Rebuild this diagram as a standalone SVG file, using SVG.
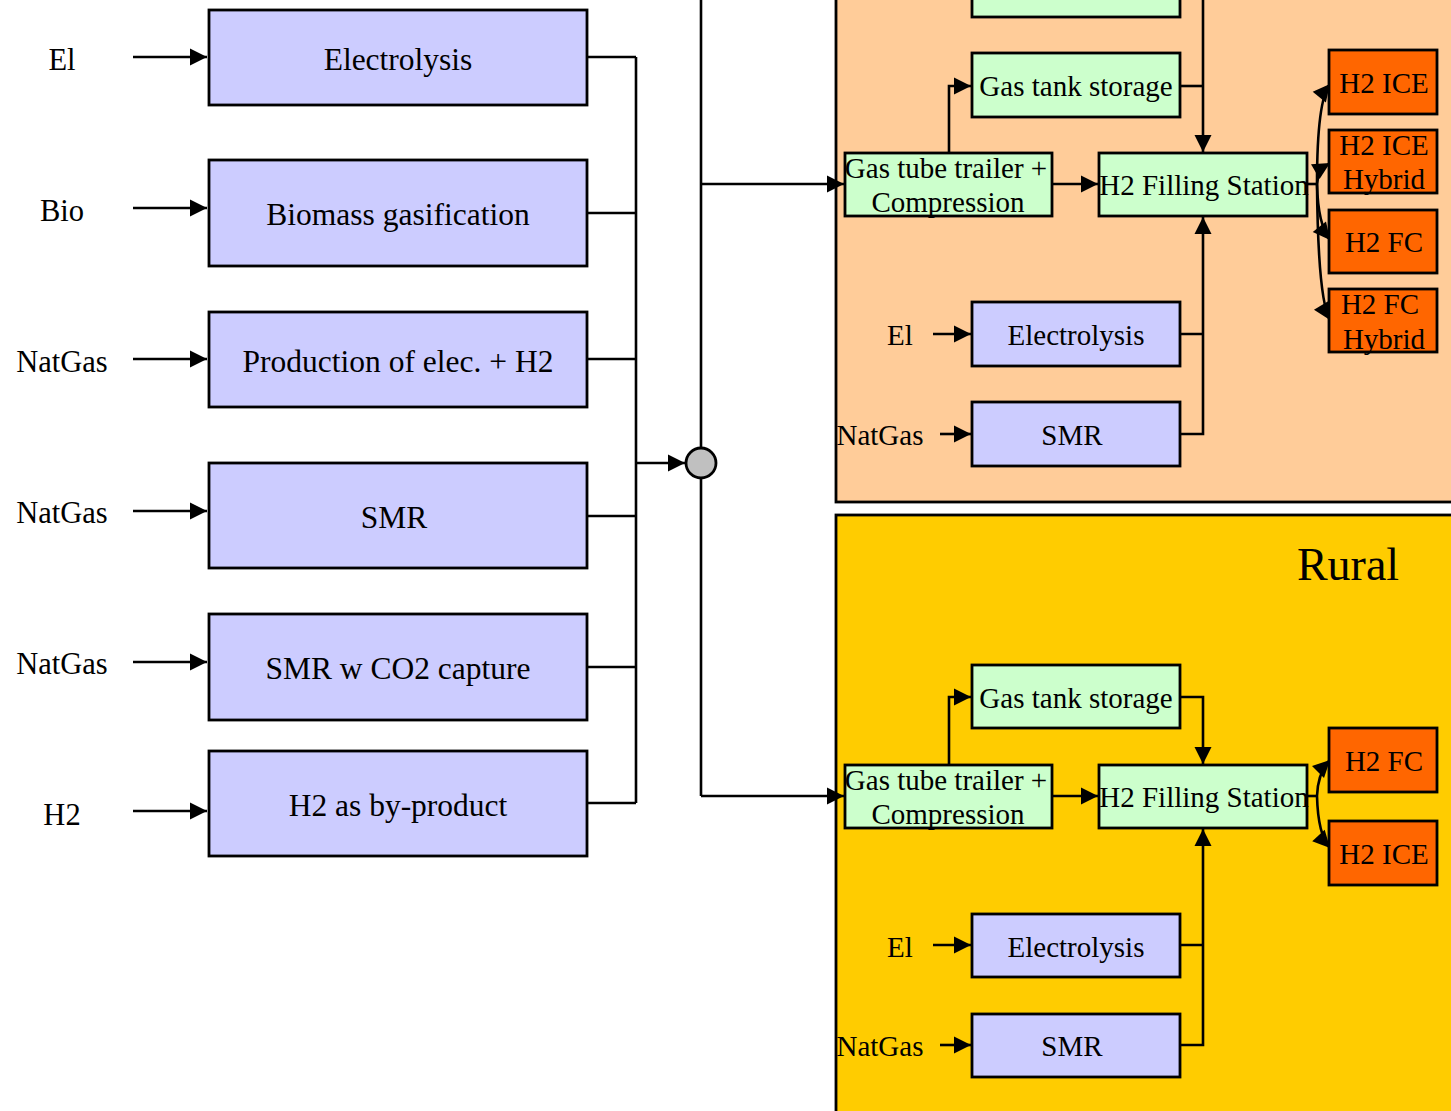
<svg xmlns="http://www.w3.org/2000/svg" width="1451" height="1111" viewBox="0 0 1451 1111">
<style>
text{font-family:"Liberation Serif","Times New Roman",serif;fill:#000;text-anchor:middle}
.big{font-size:31.5px}
.lbl{font-size:30.5px}
.sm{font-size:29px}
.blue{fill:#CCCCFF;stroke:#000;stroke-width:2.8}
.green{fill:#CCFFCC;stroke:#000;stroke-width:2.8}
.veh{fill:#FF6600;stroke:#000;stroke-width:2.8}
.ln{fill:none;stroke:#000;stroke-width:2.6}
</style>
<defs>
<marker id="ah" markerUnits="userSpaceOnUse" markerWidth="20" markerHeight="20" refX="17" refY="8.5" orient="auto" overflow="visible"><path d="M0,0 L17,8.5 L0,17 z" fill="#000"/></marker>
</defs>
<rect width="1451" height="1111" fill="#fff"/>
<g id="panel-urban"><rect x="836" y="-10" width="630" height="512" fill="#FFCC99" stroke="#000" stroke-width="2.8"/></g>
<g id="panel-rural"><rect x="836" y="515" width="630" height="610" fill="#FFCC00" stroke="#000" stroke-width="2.8"/><text x="1348" y="580" style="font-size:46px">Rural</text></g>

<g id="connectors">
<path class="ln" d="M133,57 H207" marker-end="url(#ah)"/>
<path class="ln" d="M133,208 H207" marker-end="url(#ah)"/>
<path class="ln" d="M133,359 H207" marker-end="url(#ah)"/>
<path class="ln" d="M133,511 H207" marker-end="url(#ah)"/>
<path class="ln" d="M133,662 H207" marker-end="url(#ah)"/>
<path class="ln" d="M133,811 H207" marker-end="url(#ah)"/>
<path class="ln" d="M587,57 H636 M587,213 H636 M587,359 H636 M587,516 H636 M587,667 H636 M587,803 H636 M636,57 V803"/>
<path class="ln" d="M636,463 H685" marker-end="url(#ah)"/>
<path class="ln" d="M701,0 V448 M701,478 V796"/>
<path class="ln" d="M701,184 H844" marker-end="url(#ah)"/>
<path class="ln" d="M701,796 H844" marker-end="url(#ah)"/>
<!-- urban -->
<path class="ln" d="M949,153 V86 H971" marker-end="url(#ah)"/>
<path class="ln" d="M1180,86 H1203"/>
<path class="ln" d="M1203,0 V152" marker-end="url(#ah)"/>
<path class="ln" d="M1052,184 H1098" marker-end="url(#ah)"/>
<path class="ln" d="M933,334 H971" marker-end="url(#ah)"/>
<path class="ln" d="M940,434 H971" marker-end="url(#ah)"/>
<path class="ln" d="M1180,334 H1203 M1180,434 H1203 V217" marker-end="url(#ah)"/>
<path class="ln" d="M1307,184 H1317"/>
<path class="ln" d="M1317,184 Q1317,100 1330,84" marker-end="url(#ah)"/>
<path class="ln" d="M1317,184 Q1318,170 1330,163" marker-end="url(#ah)"/>
<path class="ln" d="M1317,184 Q1318,225 1330,240" marker-end="url(#ah)"/>
<path class="ln" d="M1317,184 Q1318,300 1330,320" marker-end="url(#ah)"/>
<!-- rural -->
<path class="ln" d="M949,765 V697 H971" marker-end="url(#ah)"/>
<path class="ln" d="M1180,697 H1203 V764" marker-end="url(#ah)"/>
<path class="ln" d="M1052,796 H1098" marker-end="url(#ah)"/>
<path class="ln" d="M933,945 H971" marker-end="url(#ah)"/>
<path class="ln" d="M940,1045 H971" marker-end="url(#ah)"/>
<path class="ln" d="M1180,945 H1203 M1180,1045 H1203 V829" marker-end="url(#ah)"/>
<path class="ln" d="M1307,796 H1317"/>
<path class="ln" d="M1317,796 Q1318,772 1330,760" marker-end="url(#ah)"/>
<path class="ln" d="M1317,796 Q1318,835 1330,848" marker-end="url(#ah)"/>
</g>

<g id="in-el"><text class="lbl" x="62" y="70">El</text></g>
<g id="in-bio"><text class="lbl" x="62" y="221">Bio</text></g>
<g id="in-ng1"><text class="lbl" x="62" y="372">NatGas</text></g>
<g id="in-ng2"><text class="lbl" x="62" y="523">NatGas</text></g>
<g id="in-ng3"><text class="lbl" x="62" y="674">NatGas</text></g>
<g id="in-h2"><text class="lbl" x="62" y="825">H2</text></g>

<g id="electrolysis"><rect class="blue" x="209" y="10" width="378" height="95"/><text class="big" x="398" y="70">Electrolysis</text></g>
<g id="biomass"><rect class="blue" x="209" y="160" width="378" height="106"/><text class="big" x="398" y="225">Biomass gasification</text></g>
<g id="prod-elec-h2"><rect class="blue" x="209" y="312" width="378" height="95"/><text class="big" x="398" y="372">Production of elec. + H2</text></g>
<g id="smr"><rect class="blue" x="209" y="463" width="378" height="105"/><text class="big" x="394" y="528">SMR</text></g>
<g id="smr-ccs"><rect class="blue" x="209" y="614" width="378" height="106"/><text class="big" x="398" y="679">SMR w CO2 capture</text></g>
<g id="h2-byproduct"><rect class="blue" x="209" y="751" width="378" height="105"/><text class="big" x="398" y="816">H2 as by-product</text></g>

<g id="hub"><circle cx="701" cy="463" r="15" fill="#C0C0C0" stroke="#000" stroke-width="2.8"/></g>

<!-- urban nodes -->
<g id="u-top"><rect class="green" x="972" y="-10" width="208" height="27"/></g>
<g id="u-gastank"><rect class="green" x="972" y="53" width="208" height="64"/><text class="sm" x="1076" y="96">Gas tank storage</text></g>
<g id="u-tube"><rect class="green" x="845" y="153" width="207" height="63"/><text class="sm" x="946" y="178">Gas tube trailer +</text><text class="sm" x="948" y="212">Compression</text></g>
<g id="u-filling"><rect class="green" x="1099" y="153" width="208" height="63"/><text class="sm" x="1204" y="195">H2 Filling Station</text></g>
<g id="u-el-in"><text class="sm" x="900" y="345">El</text></g>
<g id="u-electrolysis"><rect class="blue" x="972" y="302" width="208" height="64"/><text class="sm" x="1076" y="345">Electrolysis</text></g>
<g id="u-ng-in"><text class="sm" x="880" y="445">NatGas</text></g>
<g id="u-smr"><rect class="blue" x="972" y="402" width="208" height="64"/><text class="sm" x="1072" y="445">SMR</text></g>
<g id="u-ice"><rect class="veh" x="1329" y="50" width="108" height="64"/><text class="sm" x="1384" y="93">H2 ICE</text></g>
<g id="u-ice-hyb"><rect class="veh" x="1329" y="130" width="108" height="63"/><text class="sm" x="1384" y="155">H2 ICE</text><text class="sm" x="1384" y="189">Hybrid</text></g>
<g id="u-fc"><rect class="veh" x="1329" y="210" width="108" height="63"/><text class="sm" x="1384" y="252">H2 FC</text></g>
<g id="u-fc-hyb"><rect class="veh" x="1329" y="289" width="108" height="63"/><text class="sm" x="1380" y="314">H2 FC</text><text class="sm" x="1384" y="349">Hybrid</text></g>

<!-- rural nodes -->
<g id="r-gastank"><rect class="green" x="972" y="665" width="208" height="63"/><text class="sm" x="1076" y="708">Gas tank storage</text></g>
<g id="r-tube"><rect class="green" x="845" y="765" width="207" height="63"/><text class="sm" x="946" y="790">Gas tube trailer +</text><text class="sm" x="948" y="824">Compression</text></g>
<g id="r-filling"><rect class="green" x="1099" y="765" width="208" height="63"/><text class="sm" x="1204" y="807">H2 Filling Station</text></g>
<g id="r-el-in"><text class="sm" x="900" y="957">El</text></g>
<g id="r-electrolysis"><rect class="blue" x="972" y="914" width="208" height="63"/><text class="sm" x="1076" y="957">Electrolysis</text></g>
<g id="r-ng-in"><text class="sm" x="880" y="1056">NatGas</text></g>
<g id="r-smr"><rect class="blue" x="972" y="1014" width="208" height="63"/><text class="sm" x="1072" y="1056">SMR</text></g>
<g id="r-fc"><rect class="veh" x="1329" y="728" width="108" height="64"/><text class="sm" x="1384" y="771">H2 FC</text></g>
<g id="r-ice"><rect class="veh" x="1329" y="821" width="108" height="64"/><text class="sm" x="1384" y="864">H2 ICE</text></g>
</svg>
